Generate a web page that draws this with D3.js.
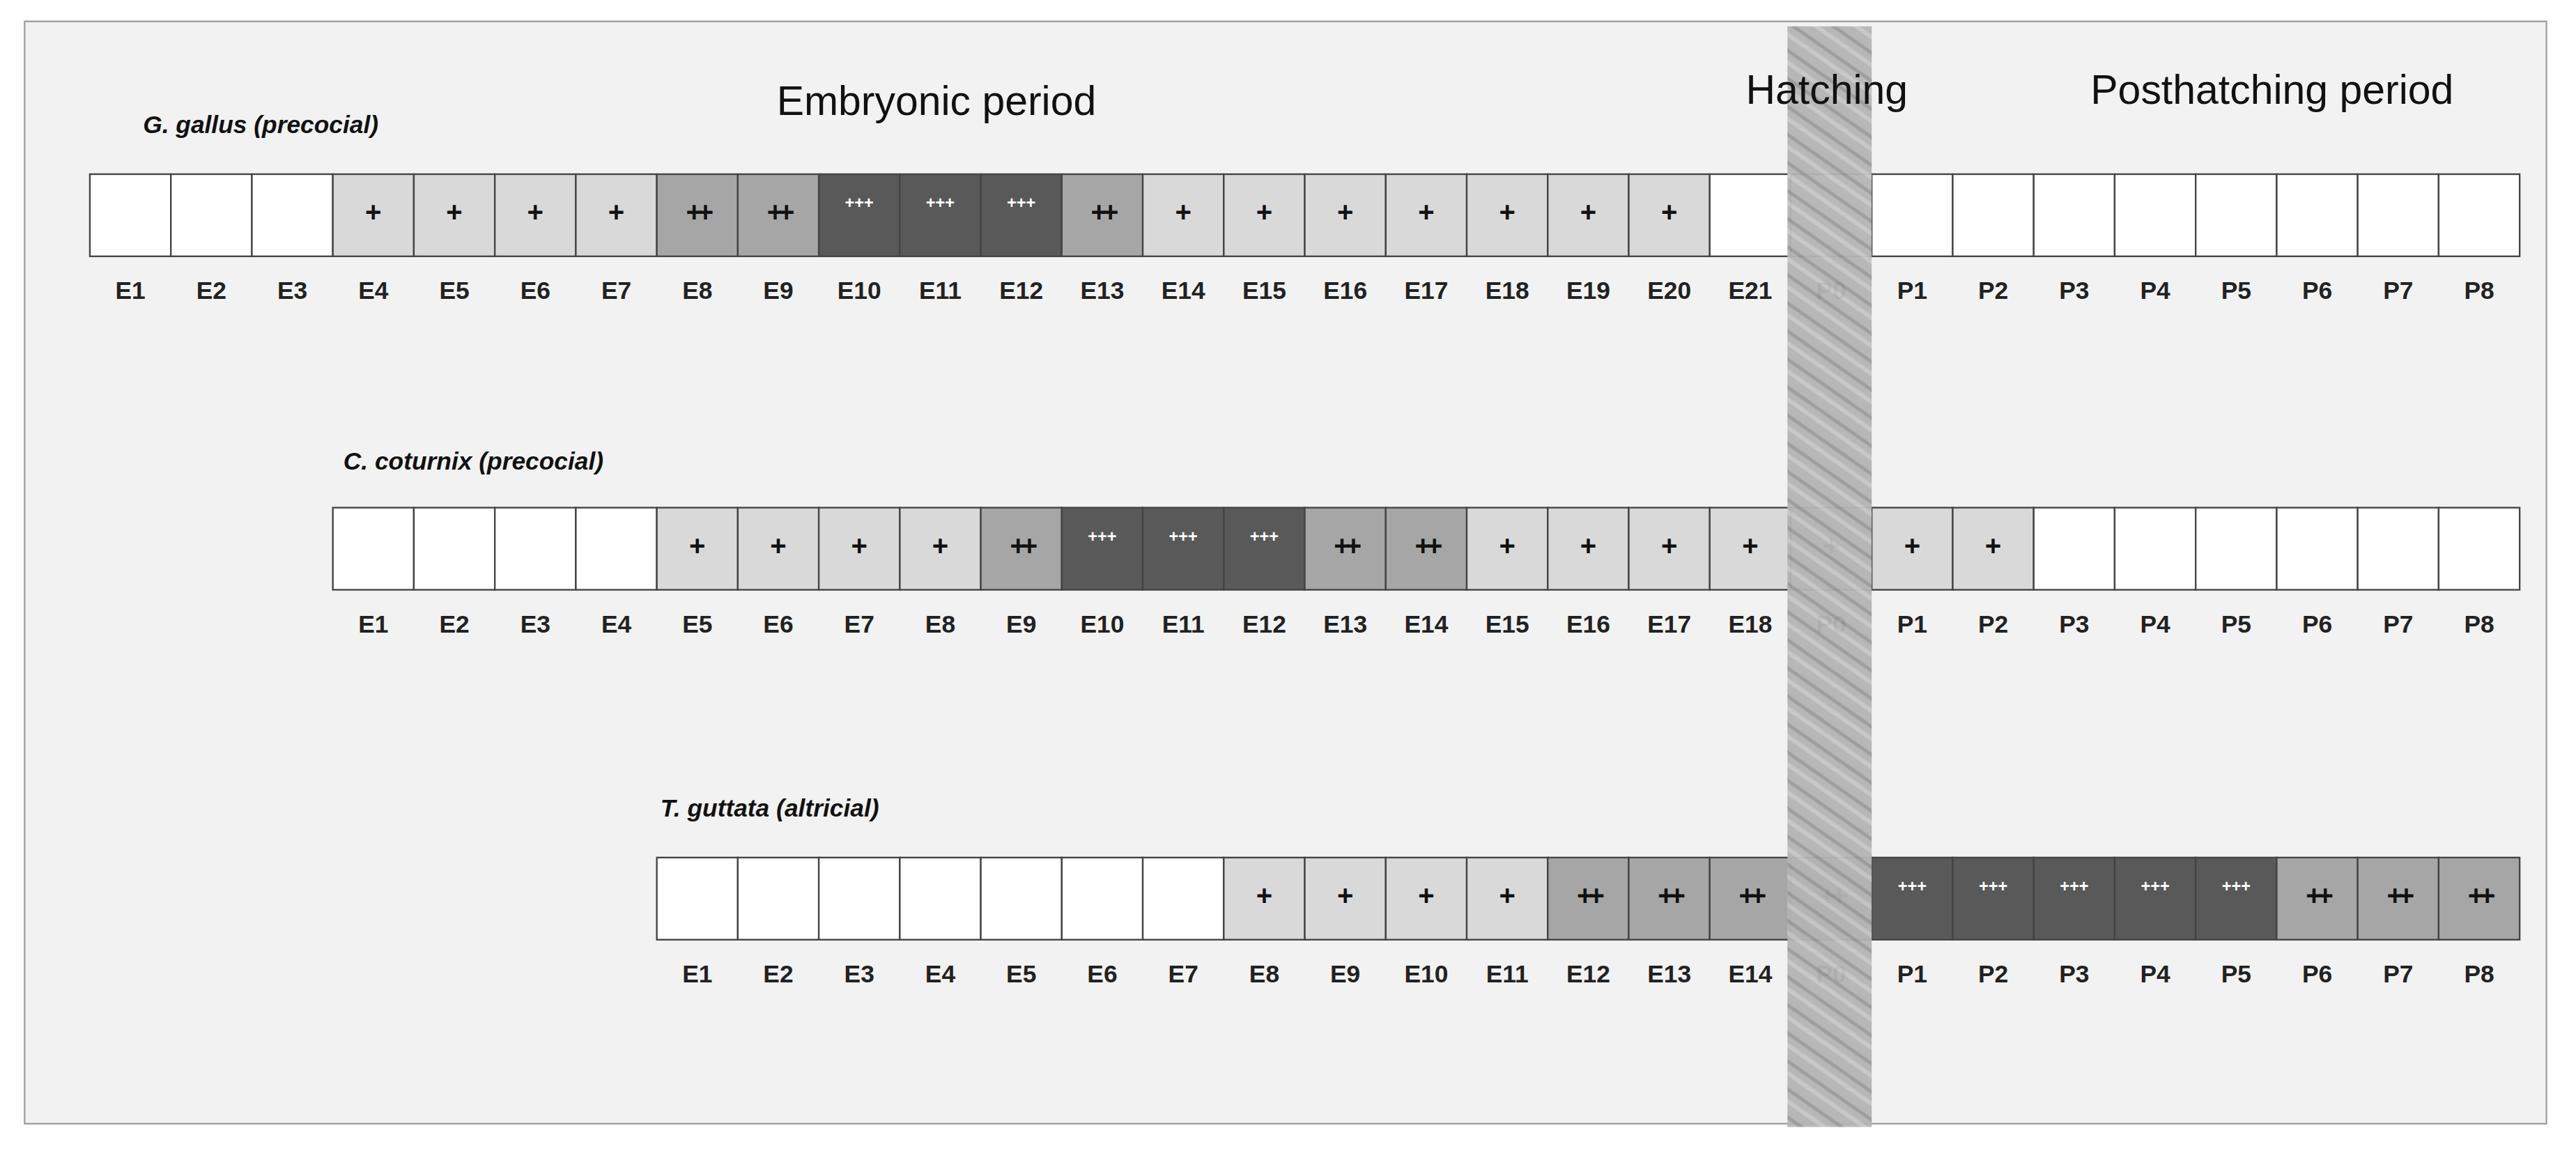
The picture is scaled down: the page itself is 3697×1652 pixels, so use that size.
<!doctype html>
<html>
<head>
<script src="https://cdn.jsdelivr.net/npm/d3@7"></script>
<style>body{margin:0;background:#fff}</style>
</head>
<body>
<script>
// expression levels: 0 none, 1 "+", 2 "++", 3 "+++"
var galLabels = ["E1","E2","E3","E4","E5","E6","E7","E8","E9","E10","E11","E12","E13","E14","E15","E16","E17","E18","E19","E20","E21","P0","P1","P2","P3","P4","P5","P6","P7","P8"];
var galLevels = [0,0,0,1,1,1,1,2,2,3,3,3,2,1,1,1,1,1,1,1,0,0,0,0,0,0,0,0,0,0];
var cotLabels = ["E1","E2","E3","E4","E5","E6","E7","E8","E9","E10","E11","E12","E13","E14","E15","E16","E17","E18","P0","P1","P2","P3","P4","P5","P6","P7","P8"];
var cotLevels = [0,0,0,0,1,1,1,1,2,3,3,3,2,2,1,1,1,1,1,1,1,0,0,0,0,0,0];
var tguLabels = ["E1","E2","E3","E4","E5","E6","E7","E8","E9","E10","E11","E12","E13","E14","P0","P1","P2","P3","P4","P5","P6","P7","P8"];
var tguLevels = [0,0,0,0,0,0,0,1,1,1,1,2,2,2,2,3,3,3,3,3,2,2,2];
var species = ["G. gallus (precocial)","C. coturnix (precocial)","T. guttata (altricial)"];
var levelSymbols = ["","+","++","+++"];
var levelFills = ["#ffffff","#d9d9d9","#a6a6a6","#595959"];

var rows = [
  {name: species[0], labels: galLabels, levels: galLevels, y: 106, nameX: 87, nameY: 81},
  {name: species[1], labels: cotLabels, levels: cotLevels, y: 309, nameX: 209, nameY: 286},
  {name: species[2], labels: tguLabels, levels: tguLevels, y: 522, nameX: 402, nameY: 497}
];

var W = 1568, H = 700.6;
var svg = d3.select("body").append("svg")
  .attr("width", 3697).attr("height", 1652)
  .attr("viewBox", "0 0 " + W + " " + H);

// position relative to hatching day P0
var x = d3.scaleLinear().domain([0, 1]).range([1090, 1139.3]);
var cellH = 50;
var font = "'Liberation Sans', Arial, sans-serif";

svg.append("rect").attr("x", 15).attr("y", 13).attr("width", 1535).attr("height", 671)
  .attr("fill", "#f2f2f2").attr("stroke", "#a0a0a0").attr("stroke-width", 1);

var defs = svg.append("defs");
var pat = defs.append("pattern").attr("id", "hatch").attr("patternUnits", "userSpaceOnUse")
  .attr("width", 14).attr("height", 14).attr("patternTransform", "rotate(35)");
pat.append("rect").attr("width", 14).attr("height", 14).attr("fill", "#b4b4b4");
pat.append("line").attr("x1", 0).attr("y1", 3).attr("x2", 14).attr("y2", 3).attr("stroke", "#9a9a9a").attr("stroke-width", 2);
pat.append("line").attr("x1", 0).attr("y1", 9).attr("x2", 14).attr("y2", 9).attr("stroke", "#c6c6c6").attr("stroke-width", 2.5);

rows.forEach(function(r) {
  var p0 = r.labels.indexOf("P0");
  var g = svg.append("g");
  var cells = g.selectAll("g.cell").data(r.levels).enter().append("g")
    .attr("transform", function(d, i) { return "translate(" + x(i - p0) + "," + r.y + ")"; });
  cells.append("rect").attr("width", x(1) - x(0)).attr("height", cellH)
    .attr("fill", function(d) { return levelFills[d]; })
    .attr("stroke", "#444").attr("stroke-width", 1);
  cells.append("text").attr("x", (x(1) - x(0)) / 2)
    .attr("y", function(d) { return d == 3 ? 21 : 29; })
    .attr("text-anchor", "middle")
    .attr("font-family", font).attr("font-weight", "bold")
    .attr("font-size", function(d) { return d == 3 ? 10 : 17; })
    .attr("fill", function(d) { return d == 3 ? "#fff" : "#111"; })
    .attr("letter-spacing", function(d) { return d == 2 ? -3 : 0; })
    .text(function(d) { return levelSymbols[d]; });
  g.selectAll("text.lab").data(r.labels).enter().append("text")
    .attr("x", function(d, i) { return x(i - p0) + (x(1) - x(0)) / 2; })
    .attr("y", r.y + 76)
    .attr("text-anchor", "middle").attr("font-family", font).attr("font-weight", "bold")
    .attr("font-size", 15).attr("fill", "#222")
    .text(function(d) { return d; });
  svg.append("text").attr("x", r.nameX).attr("y", r.nameY)
    .attr("font-family", font).attr("font-weight", "bold").attr("font-style", "italic")
    .attr("font-size", 15).attr("fill", "#111").text(r.name);
});

// hatching band
svg.append("rect").attr("x", x(0) - 2).attr("y", 16).attr("width", x(1) - x(0) + 2).attr("height", 670)
  .attr("fill", "url(#hatch)").attr("opacity", 0.95);

var titles = [["Embryonic period", 570, 70], ["Hatching", 1112, 63], ["Posthatching period", 1383, 63]];
svg.selectAll("text.title").data(titles).enter().append("text")
  .attr("x", function(d) { return d[1]; }).attr("y", function(d) { return d[2]; })
  .attr("text-anchor", "middle").attr("font-family", font).attr("font-size", 25).attr("fill", "#111")
  .text(function(d) { return d[0]; });
</script>
</body>
</html>
